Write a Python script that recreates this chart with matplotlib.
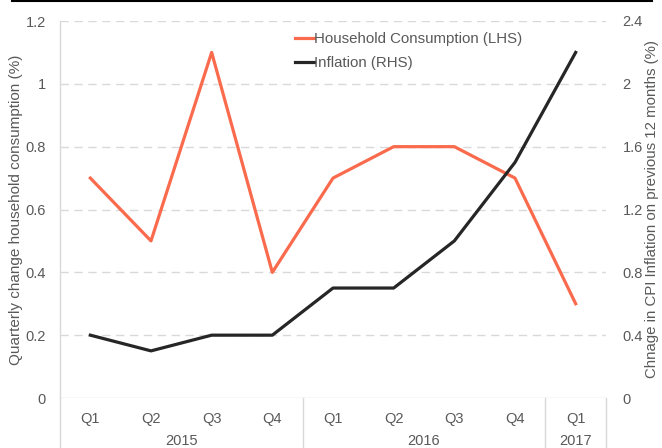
import matplotlib.pyplot as plt
import matplotlib.transforms as mtransforms
from matplotlib.lines import Line2D
import numpy as np

plt.rcParams['font.family'] = ['Liberation Sans', 'DejaVu Sans']

# data
quarters = ["Q1", "Q2", "Q3", "Q4", "Q1", "Q2", "Q3", "Q4", "Q1"]
years = ["2015", "2016", "2017"]
year_span = [(-0.5, 3.5), (3.5, 7.5), (7.5, 8.5)]
consumption = [0.7, 0.5, 1.1, 0.4, 0.7, 0.8, 0.8, 0.7, 0.3]
inflation = [0.4, 0.3, 0.4, 0.4, 0.7, 0.7, 1.0, 1.5, 2.2]

orange = "#FA6A4C"
dark = "#262626"
txt = "#595959"
grid = "#D9D9D9"

fig = plt.figure(figsize=(6.62, 4.48), dpi=100)
ax = fig.add_axes([60 / 662, 1 - 398 / 448, 546 / 662, 377 / 448])
ax2 = ax.twinx()

x = np.arange(len(quarters))
ax.plot(x, consumption, color=orange, lw=2.3, label="Household Consumption (LHS)")
ax2.plot(x, inflation, color=dark, lw=2.3, label="Inflation (RHS)")

ax.set_xlim(-0.5, 8.5)
ax.set_ylim(0, 1.2)
ax2.set_ylim(0, 2.4)
ax.set_yticks([0, 0.2, 0.4, 0.6, 0.8, 1.0, 1.2])
ax.set_yticklabels(["0", "0.2", "0.4", "0.6", "0.8", "1", "1.2"])
ax2.set_yticks([0, 0.4, 0.8, 1.2, 1.6, 2.0, 2.4])
ax2.set_yticklabels(["0", "0.4", "0.8", "1.2", "1.6", "2", "2.4"])

# gridlines
for v in [0.2, 0.4, 0.6, 0.8, 1.0, 1.2]:
    ax.axhline(v, color=grid, lw=1, ls=(0, (6, 4)), zorder=0)
ax.axhline(0, color=grid, lw=1, zorder=0)

for a in (ax, ax2):
    for s in a.spines.values():
        s.set_visible(False)
    a.tick_params(length=0, labelsize=10.5, colors=txt)
ax.tick_params(axis="y", pad=10)
ax2.tick_params(axis="y", pad=12)

ax.set_ylabel("Quarterly change household consumption (%)", color=txt, fontsize=11)
ax2.set_ylabel("Chnage in CPI Inflation on previous 12 months (%)", color=txt, fontsize=10.8)
ax.yaxis.set_label_coords(-0.068, 0.5)
ax2.yaxis.set_label_coords(1.072, 0.5)

# category axis: quarters and years
ax.set_xticks(x)
ax.set_xticklabels(quarters)
ax.tick_params(axis="x", pad=10)
trans = mtransforms.blended_transform_factory(ax.transData, ax.transAxes)
for yr, (a0, a1) in zip(years, year_span):
    ax.text((a0 + a1) / 2, -0.114, yr, transform=trans, ha="center", va="center",
            color=txt, fontsize=10.5)
    ax.plot([a0, a0], [0, -0.14], transform=trans, color=grid, lw=1, clip_on=False)
ax.plot([8.5, 8.5], [0, -0.14], transform=trans, color=grid, lw=1, clip_on=False)
ax.plot([-0.5, -0.5], [0, 1], transform=trans, color=grid, lw=1, clip_on=False)

# legend
h1, l1 = ax.get_legend_handles_labels()
h2, l2 = ax2.get_legend_handles_labels()
leg = ax.legend(h1 + h2, l1 + l2, loc="upper left", bbox_to_anchor=(0.405, 1.006),
                frameon=False, handlelength=1.3, handletextpad=0.0, labelspacing=0.65,
                fontsize=10.8)
for t in leg.get_texts():
    t.set_color(txt)

# top border line
fig.add_artist(Line2D([12 / 662, 652 / 662], [0.997, 0.997], color="black", lw=1.5))

fig.savefig("out.png", dpi=100)
